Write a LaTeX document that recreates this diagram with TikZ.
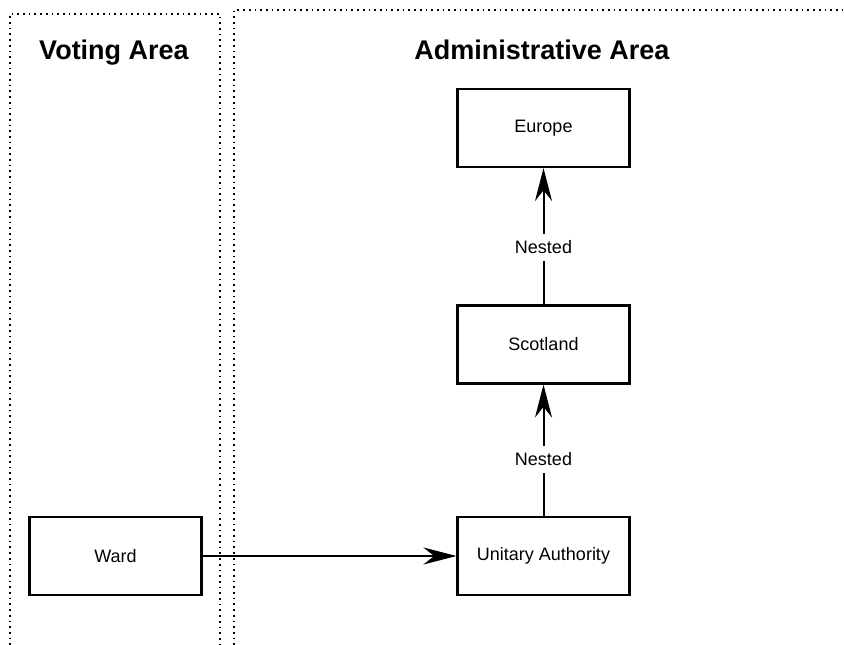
\documentclass[tikz,border=0pt]{standalone}
\usepackage{fontspec}
\setmainfont{Liberation Sans}
\usetikzlibrary{arrows.meta}
\begin{document}
\begin{tikzpicture}[x=1pt,y=-1pt,
  box/.style={draw=black, line width=2.1pt, minimum width=172pt, minimum height=78pt, inner sep=0pt, font=\fontsize{18}{20}\selectfont},
  header/.style={font=\bfseries\fontsize{27}{30}\selectfont, anchor=base, inner sep=0pt},
  frame/.style={line width=1.7pt, dash pattern=on 1.7pt off 4pt},
  conn/.style={line width=2pt, -{Stealth[length=33pt,width=17pt]}},
  lbl/.style={fill=white, font=\fontsize{18}{20}\selectfont, inner xsep=2pt, inner ysep=7pt}
]
\useasboundingbox (0,0) rectangle (844,645);
% frames
\draw[frame] (10,645) -- (10,14) -- (220,14) -- (220,645);
\draw[frame] (234,645) -- (234,10) -- (846,10);
% headers
\node[header] (vh) at (114,59) {Voting Area};
\node[header] (ah) at (542,59) {Administrative Area};
% boxes
\node[box] (eu) at (543.5,128) {Europe};
\node[box] (sc) at (543.5,344.5) {Scotland};
\node[box] (ua) at (543.5,556) {Unitary Authority};
\node[box] (wd) at (115.5,556) {Ward};
% connectors
\draw[conn] (wd.east) -- (ua.west);
\draw[conn] (ua.north) -- node[lbl, pos=0.43] {Nested} (sc.south);
\draw[conn] (sc.north) -- node[lbl, pos=0.42] {Nested} (eu.south);
\end{tikzpicture}
\end{document}
